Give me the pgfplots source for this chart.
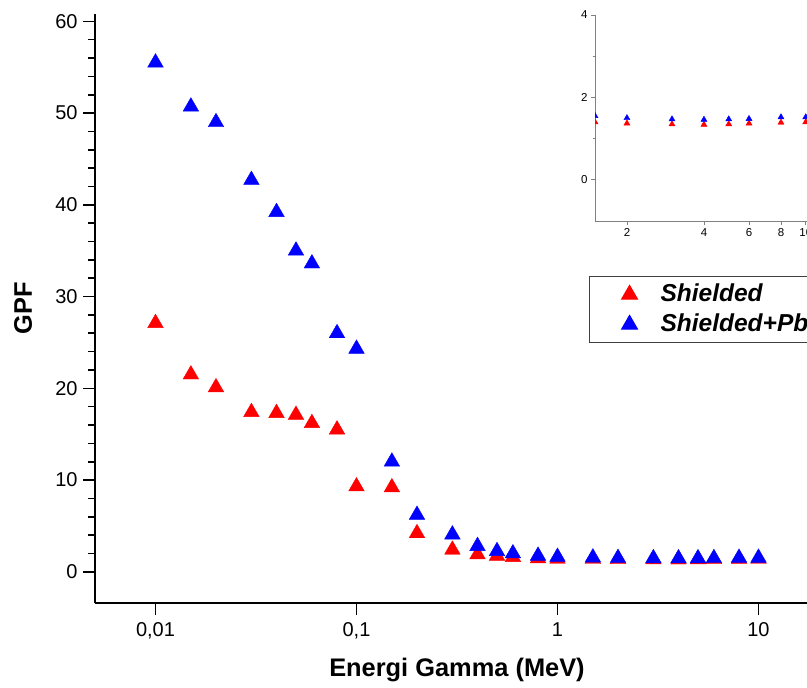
\documentclass[border=0pt]{standalone}
\usepackage{fontspec}
\setmainfont{Liberation Sans}
\usepackage{pgfplots}
\usepackage{pgfplotstable}
\pgfplotsset{compat=1.18}
\pgfplotsset{myleg/.style={legend image code/.code={\path[draw=none,fill=none] (0pt,-8pt) rectangle (61pt,8pt); \path[##1] plot coordinates {(36pt,0pt)};}}}
\pgfplotstableread{
x red blue
0.01 27.1 55.5
0.015 21.5 50.7
0.02 20.1 49.0
0.03 17.4 42.7
0.04 17.3 39.2
0.05 17.1 35.0
0.06 16.2 33.6
0.08 15.5 26.0
0.1 9.3 24.3
0.15 9.2 12.0
0.2 4.2 6.2
0.3 2.4 4.06
0.4 1.9 2.8
0.5 1.74 2.25
0.6 1.6 2.0
0.8 1.46 1.74
1 1.42 1.62
1.5 1.40 1.55
2 1.37 1.50
3 1.35 1.47
4 1.34 1.46
5 1.35 1.47
6 1.37 1.48
8 1.39 1.52
10 1.40 1.52
}\gpfdata
\begin{document}
\begin{tikzpicture}[x=1pt,y=1pt]
\begin{axis}[
  at={(95pt,85pt)}, anchor=south west,
  scale only axis, width=724pt, height=589pt,
  xmode=log, xmin=0.005, xmax=20, ymin=-3.4, ymax=60.8,
  axis x line*=bottom, axis y line*=left,
  axis line style={line width=2pt, black, -},
  xtick={0.01,0.1,1,10}, xticklabels={{0,01},{0,1},1,10},
  xminorticks=false,
  ytick={0,10,...,60}, minor y tick num=4,
  tick align=outside, major tick length=12pt, minor tick length=7pt,
  every tick/.style={black, line width=1.6pt},
  tick label style={font=\fontsize{20}{24}\selectfont},
  xticklabel style={yshift=-4pt},
  yticklabel style={xshift=-2pt},
  /pgf/number format/assume math mode=true,
  xlabel={Energi Gamma (MeV)}, ylabel={GPF},
  label style={font=\fontsize{25.4}{30}\selectfont\bfseries},
  xlabel style={at={(axis description cs:0.5,-0.1137)}, anchor=center},
  ylabel style={at={(axis description cs:-0.0994,0.5)}, anchor=center},
  legend style={at={(axis description cs:0.6823,0.5552)}, anchor=north west,
    draw=black!75, line width=1.2pt, inner xsep=4pt, inner ysep=3pt, row sep=0pt,
    font=\fontsize{24.5}{30}\selectfont\bfseries\itshape,
    nodes={text height=18pt, text depth=4pt, inner ysep=4pt, inner xsep=6pt}},
  legend cell align=left,
]
\addplot[only marks, mark=triangle*, mark size=9pt, color=red, myleg]
  table[x=x, y=red] {\gpfdata};
\addlegendentry{Shielded}
\addplot[only marks, mark=triangle*, mark size=9pt, color=blue, myleg]
  table[x=x, y=blue] {\gpfdata};
\addlegendentry{Shielded+Pb}
\end{axis}
\begin{axis}[
  at={(595pt,467pt)}, anchor=south west,
  scale only axis, width=231pt, height=206pt,
  xmode=log, xmin=1.5, xmax=12, ymin=-1, ymax=4,
  axis x line*=bottom, axis y line*=left,
  axis line style={gray, line width=0.8pt, -},
  xtick={2,4,6,8,10}, xticklabels={2,4,6,8,10}, xminorticks=false,
  ytick={0,2,4}, minor y tick num=1,
  tick align=outside, major tick length=4pt, minor tick length=2.5pt,
  every tick/.style={gray, line width=0.8pt},
  tick label style={font=\fontsize{11.5}{13}\selectfont},
  /pgf/number format/assume math mode=true,
  clip marker paths=true,
]
\addplot[only marks, mark=triangle*, mark size=3.5pt, color=red]
  table[x=x, y=red] {\gpfdata};
\addplot[only marks, mark=triangle*, mark size=3.5pt, color=blue]
  table[x=x, y=blue] {\gpfdata};
\end{axis}
\pgfresetboundingbox
\path[use as bounding box] (0,0) rectangle (807,688);
\end{tikzpicture}
\end{document}
